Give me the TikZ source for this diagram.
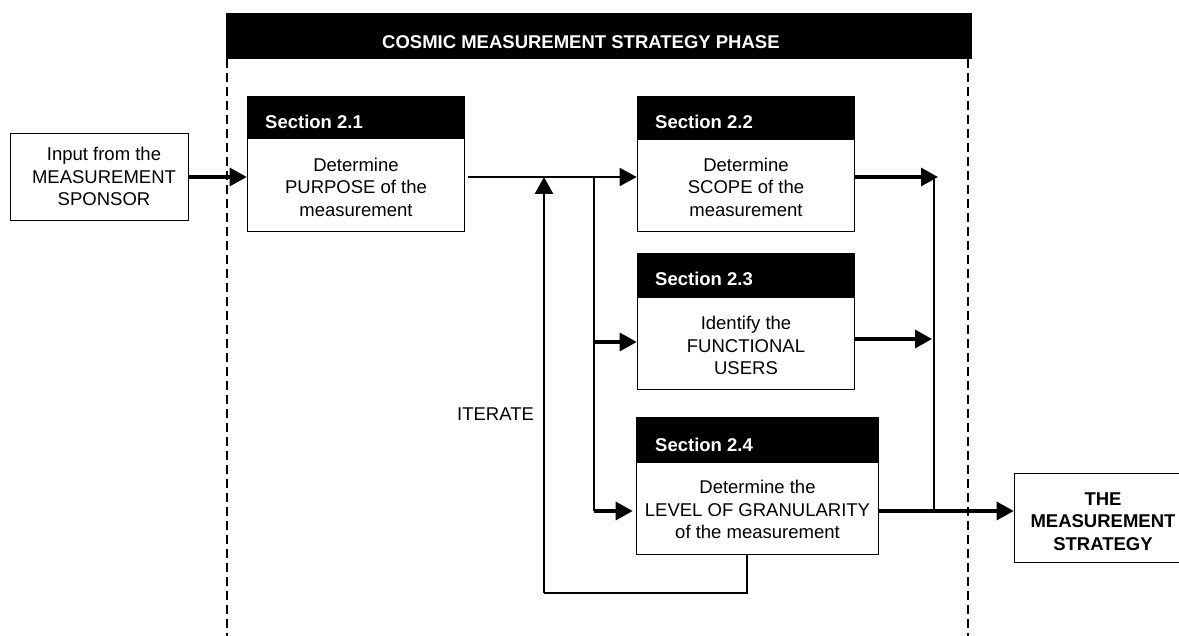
\documentclass[tikz,border=0pt]{standalone}
\usepackage{fontspec}
\setmainfont{Liberation Sans}
\usetikzlibrary{arrows.meta}
\begin{document}
\begin{tikzpicture}[x=1pt,y=-1pt,
  txt/.style={font=\fontsize{18.5}{22.5}\selectfont, align=center, inner sep=0pt},
  boldtxt/.style={font=\fontsize{18.5}{22.5}\selectfont\bfseries, align=center, inner sep=0pt},
  hdrtxt/.style={font=\fontsize{18.5}{22.5}\selectfont\bfseries, text=white, inner sep=0pt, anchor=base west},
  body/.style={draw=black, line width=1.6pt, fill=white, inner sep=0pt},
  hdr/.style={draw=black, line width=1.6pt, fill=black, inner sep=0pt},
  thinline/.style={line width=1.6pt},
  thickline/.style={line width=3.2pt},
  iterline/.style={line width=2.6pt},
  tip/.style={-{Triangle[length=17pt,width=18pt]}},
  phaseline/.style={line width=2.6pt, dash pattern=on 9pt off 5pt}
]
\clip (0,0) rectangle (1179,636);
\fill[white] (0,0) rectangle (1179,636);

% phase header
\node[hdr, minimum width=745pt, minimum height=45pt] (phase) at (599,36) {};
\node[hdrtxt] (phaselbl) at (382,48.6) {COSMIC MEASUREMENT STRATEGY PHASE};
\coordinate (dl0) at (227,59);
\coordinate (dl1) at (227,636);
\coordinate (dr0) at (968,59);
\coordinate (dr1) at (968,636);
\draw[phaseline] (dl0) -- (dl1);
\draw[phaseline] (dr0) -- (dr1);

% input box
\node[body, minimum width=178pt, minimum height=87pt] (input) at (99.5,177) {};
\node[txt] (inputlbl) at (104,176.5) {Input from the\\MEASUREMENT\\SPONSOR};

% section 2.1
\node[hdr, minimum width=217pt, minimum height=41pt] (s21h) at (356,117) {};
\node[hdrtxt] (s21hl) at (265,128.6) {Section 2.1};
\node[body, minimum width=217pt, minimum height=93pt] (s21b) at (356,185) {};
\node[txt] (s21t) at (356,187) {Determine\\PURPOSE of the\\measurement};

% section 2.2
\node[hdr, minimum width=217pt, minimum height=42pt] (s22h) at (746,117.5) {};
\node[hdrtxt] (s22hl) at (655,128.6) {Section 2.2};
\node[body, minimum width=217pt, minimum height=92pt] (s22b) at (746,185.5) {};
\node[txt] (s22t) at (746,187) {Determine\\SCOPE of the\\measurement};

% section 2.3
\node[hdr, minimum width=217pt, minimum height=43pt] (s23h) at (746,275) {};
\node[hdrtxt] (s23hl) at (655,285.6) {Section 2.3};
\node[body, minimum width=217pt, minimum height=92pt] (s23b) at (746,343.5) {};
\node[txt] (s23t) at (746,345.5) {Identify the\\FUNCTIONAL\\USERS};

% section 2.4
\node[hdr, minimum width=242pt, minimum height=44pt] (s24h) at (757.5,439.5) {};
\node[hdrtxt] (s24hl) at (655,451.6) {Section 2.4};
\node[body, minimum width=242pt, minimum height=92pt] (s24b) at (757.5,508.5) {};
\node[txt] (s24t) at (757.5,509.5) {Determine the\\LEVEL OF GRANULARITY\\of the measurement};

% output box
\node[body, minimum width=177pt, minimum height=89pt] (output) at (1103,518) {};
\node[boldtxt] (outputlbl) at (1103,521.5) {THE\\MEASUREMENT\\STRATEGY};

% ITERATE label
\node[txt, anchor=base west] (iterlbl) at (457,420.6) {ITERATE};

% junction coordinates
\coordinate (j1) at (544,177);
\coordinate (loopL) at (544,593);
\coordinate (loopR) at (747,593);
\coordinate (b0) at (594,176);
\coordinate (b3) at (594,342);
\coordinate (b4) at (594,511);
\coordinate (c0) at (934,177);
\coordinate (c3) at (934,339);
\coordinate (c4) at (934,511);

% connectors
\draw[thickline,tip] (input.east |- j1) -- (s21b.west |- j1);
\draw[thinline,tip] ([xshift=3pt]s21b.east |- j1) -- (s22b.west |- j1);
\draw[thinline] (b0) -- (b4);
\draw[thickline,tip] (b3) -- (s23b.west |- b3);
\draw[thickline,tip,shorten >=3pt] (b4) -- (s24b.west |- b4);
\draw[thinline] (loopR |- s24b.south) -- (loopR) -- (loopL);
\draw[iterline,tip] (loopL) -- (j1);
\draw[thickline,tip,shorten >=-4pt] (s22b.east |- c0) -- (c0);
\draw[thickline,tip,shorten >=2pt] (s23b.east |- c3) -- (c3);
\draw[thinline] (c0) -- (c4);
\draw[thickline,tip] (s24b.east |- c4) -- (output.west |- c4);
\end{tikzpicture}
\end{document}
